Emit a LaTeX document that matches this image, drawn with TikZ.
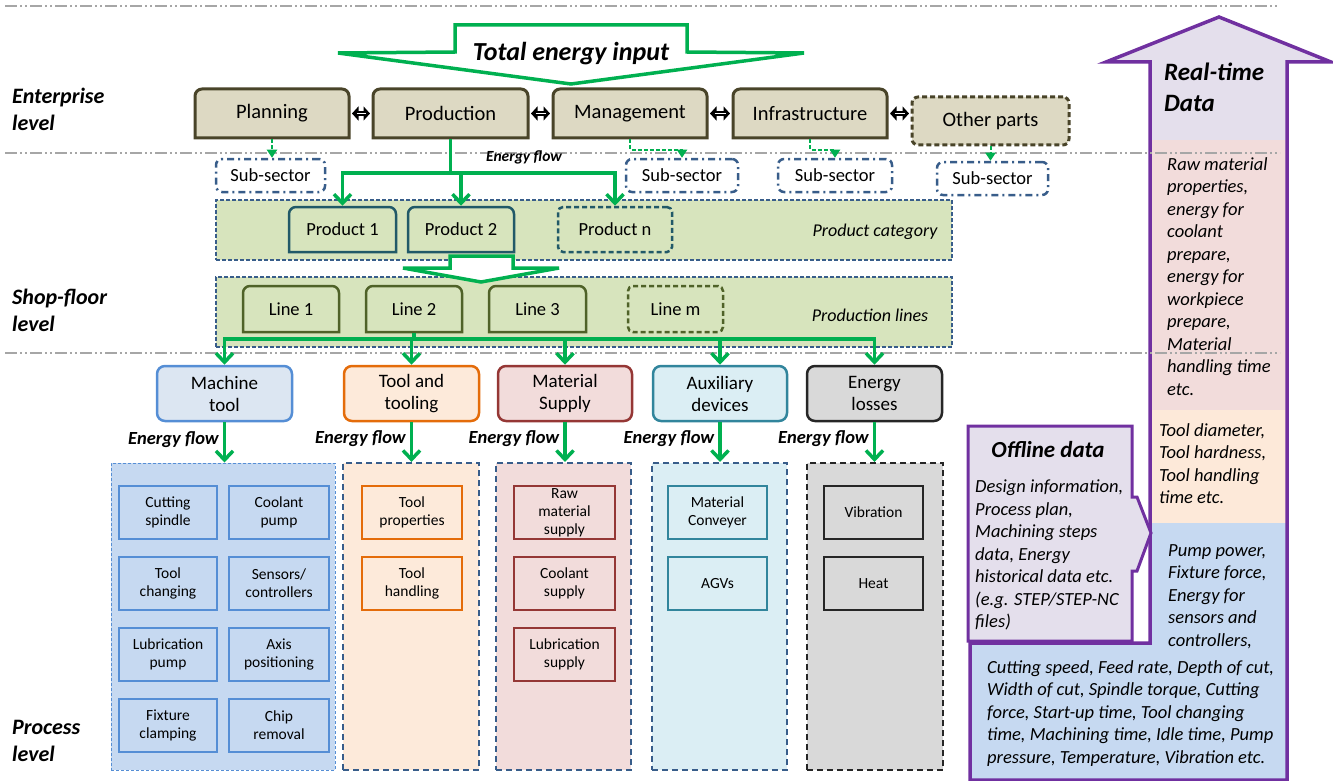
\documentclass[tikz,border=0pt]{standalone}
\usepackage{fontspec}
\setmainfont{Carlito}
\usetikzlibrary{arrows.meta,calc}
\definecolor{flowgreen}{HTML}{00B050}
\definecolor{entfill}{HTML}{DDD9C3}
\definecolor{entdraw}{HTML}{494429}
\definecolor{subblue}{HTML}{385D8A}
\definecolor{panelgreen}{HTML}{D7E4BD}
\definecolor{proddraw}{HTML}{215968}
\definecolor{linedraw}{HTML}{4F6228}
\definecolor{gridgray}{HTML}{A6A6A6}
\definecolor{mtfill}{HTML}{DCE6F2}
\definecolor{mtdraw}{HTML}{558ED5}
\definecolor{mtpanel}{HTML}{C6D9F1}
\definecolor{ttfill}{HTML}{FDEADA}
\definecolor{ttdraw}{HTML}{E46C0A}
\definecolor{msfill}{HTML}{F2DCDB}
\definecolor{msdraw}{HTML}{953735}
\definecolor{adfill}{HTML}{DBEEF4}
\definecolor{addraw}{HTML}{31859C}
\definecolor{elfill}{HTML}{D9D9D9}
\definecolor{eldraw}{HTML}{262626}
\definecolor{rtpurple}{HTML}{7030A0}
\definecolor{rtlav}{HTML}{E4DFEC}
\definecolor{rtpink}{HTML}{F2DCDB}
\definecolor{rtpeach}{HTML}{FDE9D9}
\definecolor{rtblue}{HTML}{C6D9F1}
\newcommand{\fsz}[2]{\fontsize{#1}{#2}\selectfont}
\newcommand{\bx}[7]{\node[inner sep=0pt, align=center, minimum width={(#4-#2)*1pt}, minimum height={(#5-#3)*1pt}, #6] (#1) at ({(#2+#4)/2},{(#3+#5)/2}) {#7};}
\newcommand{\topbox}[7]{\filldraw[#6] (#2,#5) [rounded corners=7pt] -- (#2,#3) -- (#4,#3) [sharp corners] -- (#4,#5) -- cycle;
\node[#6, draw=none, fill=none, inner sep=0pt, align=center, minimum width={(#4-#2)*1pt}, minimum height={(#5-#3)*1pt}] (#1) at ({(#2+#4)/2},{(#3+#5)/2}) {#7};}
\tikzset{
  flow/.style={draw=flowgreen, line width=3.5pt, -{Straight Barb[length=9pt,width=17pt]}},
  flowline/.style={draw=flowgreen, line width=3.5pt},
  dflow/.style={draw=flowgreen, line width=2pt, dash pattern=on 4pt off 2pt, -{Triangle[length=8pt,width=10pt]}},
  dbl/.style={draw=black, line width=5.5pt, {Triangle[length=6.5pt,width=14pt]}-{Triangle[length=6.5pt,width=14pt]}, shorten <=1.5pt, shorten >=1.5pt},
  dblin/.style={draw=white, line width=1pt, shorten <=6pt, shorten >=6pt},
  ent/.style={fill=entfill, draw=entdraw, line width=3pt, font=\fsz{20.5}{23}},
  sub/.style={draw=subblue, line width=2.5pt, dash pattern=on 7pt off 4pt on 2pt off 4pt, rounded corners=6pt, font=\fsz{18.5}{21}},
  panelbox/.style={fill=panelgreen, draw=subblue, line width=1.2pt, dash pattern=on 4pt off 2pt},
  prodbox/.style={fill=panelgreen, draw=proddraw, line width=2.5pt, font=\fsz{18.5}{21}},
  linebox/.style={fill=panelgreen, draw=linedraw, line width=2.5pt, font=\fsz{18.5}{21}},
  cat/.style={draw, line width=2.5pt, rounded corners=8pt, font=\fsz{19}{22}},
  pnl/.style={draw, line width=2pt, dash pattern=on 6pt off 4pt},
  sm/.style={draw, line width=2pt, font=\fsz{15.5}{18}},
  efl/.style={font=\fsz{18.5}{20}\bfseries\itshape, text=black, inner sep=0pt},
  lvl/.style={font=\fsz{22}{27}\bfseries\itshape, align=left, anchor=west, inner sep=0pt},
  rtxt/.style={font=\fsz{18.5}{22.5}\itshape, align=left, inner sep=0pt, anchor=north west},
  gridline/.style={draw=gridgray, line width=2pt, dash pattern=on 12pt off 3pt on 2pt off 3pt on 2pt off 3pt}
}
\begin{document}
\begin{tikzpicture}[x=1pt,y=-1pt]
\useasboundingbox (0,0) rectangle (1333,781);
% ---------- real-time data arrow ----------
\fill[rtlav] (1150,140) -- (1150,62) -- (1106,62) -- (1219,17) -- (1331,62) -- (1287,62) -- (1287,140) -- cycle;
\fill[rtpink] (1150,140) rectangle (1287,410);
\fill[rtpeach] (1150,410) rectangle (1287,523);
\fill[rtblue] (1150,523) -- (1287,523) -- (1287,780) -- (970,780) -- (970,643) -- (1150,643) -- cycle;
\draw[rtpurple, line width=3.5pt, line join=miter] (1150,643) -- (1150,62) -- (1106,62) -- (1219,17) -- (1331,62) -- (1287,62) -- (1287,780) -- (970,780) -- (970,643) -- cycle;
\node[font=\fsz{25}{31}\bfseries\itshape, align=left, anchor=north west, inner sep=0pt] (rtd) at (1164,63) {Real-time\\Data};
\node[rtxt] (rawtxt) at (1167,157) {Raw material\\properties,\\energy for\\coolant\\prepare,\\energy for\\workpiece\\prepare,\\Material\\handling time\\etc.};
\node[rtxt] (tooltxt) at (1159,423) {Tool diameter,\\Tool hardness,\\Tool handling\\time etc.};
\node[rtxt] (pumptxt) at (1168,544) {Pump power,\\Fixture force,\\Energy for\\sensors and\\controllers,};
\node[rtxt] (cuttxt) at (987,660) {Cutting speed, Feed rate, Depth of cut,\\Width of cut, Spindle torque, Cutting\\force, Start-up time, Tool changing\\time, Machining time, Idle time, Pump\\pressure, Temperature, Vibration etc.};
% ---------- offline data ----------
\filldraw[fill=rtlav, draw=rtpurple, line width=3pt, line join=miter] (968,426) -- (1132,426) -- (1132,497) -- (1137,497) -- (1151,533) -- (1137,571) -- (1132,571) -- (1132,641) -- (968,641) -- cycle;
\node[font=\fsz{23}{26}\bfseries\itshape, inner sep=0pt] (offl) at (1048,450) {Offline data};
\node[rtxt] (offtxt) at (975,480) {Design information,\\Process plan,\\Machining steps\\data, Energy\\historical data etc.\\(e.g. STEP/STEP-NC\\files)};
% ---------- grid lines ----------
\draw[gridline] (5,6) -- (1278,6);
\draw[gridline] (5,153) -- (1280,153);
\draw[gridline] (5,353) -- (1280,353);
% ---------- level labels ----------
\node[lvl] (lvl1) at (12,109) {Enterprise\\level};
\node[lvl] (lvl2) at (12,310) {Shop-floor\\level};
\node[lvl] (lvl3) at (12,741) {Process\\level};
% ---------- total energy input ----------
\filldraw[fill=white, draw=flowgreen, line width=3.5pt, line join=miter] (455,25) -- (687,25) -- (687,52) -- (804,53) -- (571,84) -- (338,53) -- (455,52) -- cycle;
\node[font=\fsz{26}{28}\bfseries\itshape, inner sep=0pt] (tei) at (571,54) {Total energy input};
% ---------- enterprise boxes ----------
\topbox{plan}{195}{89}{349}{138}{ent}{Planning}
\topbox{prod}{373}{89}{528}{138}{ent}{Production}
\topbox{mgmt}{553}{89}{707}{138}{ent}{Management}
\topbox{infra}{733}{89}{887}{138}{ent}{Infrastructure}
\bx{other}{912}{97}{1069}{145}{ent, dash pattern=on 5pt off 3pt, rounded corners=6pt}{Other parts}
\draw[dbl] (plan.east) -- (prod.west);
\draw[dbl] (prod.east) -- (mgmt.west);
\draw[dbl] (mgmt.east) -- (infra.west);
\draw[dbl] (infra.east) -- (other.west |- infra.east);
\draw[dblin] (plan.east) -- (prod.west);
\draw[dblin] (prod.east) -- (mgmt.west);
\draw[dblin] (mgmt.east) -- (infra.west);
\draw[dblin] (infra.east) -- (other.west |- infra.east);
% sub-sectors
\bx{ss1}{216}{159}{325}{192}{sub}{Sub-sector}
\bx{ss2}{626}{159}{738}{192}{sub}{Sub-sector}
\bx{ss3}{778}{159}{892}{192}{sub}{Sub-sector}
\bx{ss4}{937}{162}{1048}{195}{sub}{Sub-sector}
\coordinate (bend2) at ($(ss2.north)+(0,-8)$);
\coordinate (bend3) at ($(ss3.north)+(0,-8)$);
\draw[dflow] (plan.south) -- (plan.south |- ss1.north);
\draw[dflow] (mgmt.south) |- (bend2) -- (ss2.north);
\draw[dflow] (infra.south) |- (bend3) -- (ss3.north);
\draw[dflow] (other.south) -- (other.south |- ss4.north);
% ---------- product category ----------
\bx{pcat}{216}{200}{952}{260}{panelbox}{}
\node[font=\fsz{18}{20}\itshape, inner sep=0pt] (pcatl) at (875,232) {Product category};
\topbox{p1}{289}{207}{396}{252}{prodbox}{Product 1}
\topbox{p2}{408}{207}{514}{252}{prodbox}{Product 2}
\bx{pn}{558}{207}{672}{252}{prodbox, dash pattern=on 5pt off 3pt, rounded corners=5pt}{Product n}
\coordinate (pbus) at (0,173);
\draw[flowline] (prod.south) -- (prod.south |- pbus);
\draw[flowline, line cap=rect] (p1.north |- pbus) -- (pn.north |- pbus);
\draw[flow] (p1.north |- pbus) -- (p1.north);
\draw[flow] (p2.north |- pbus) -- (p2.north);
\draw[flow] (pn.north |- pbus) -- (pn.north);
\node[font=\fsz{15.5}{18}\bfseries\itshape, inner sep=0pt] (ef0) at (524,157) {Energy flow};
% ---------- production lines ----------
\bx{plines}{216}{277}{952}{347}{panelbox}{}
\node[font=\fsz{18}{20}\itshape, inner sep=0pt] (plinesl) at (870,315) {Production lines};
\filldraw[fill=white, draw=flowgreen, line width=3.5pt, line join=miter] (450,256) -- (513,256) -- (513,268) -- (559,268) -- (481,282) -- (403,268) -- (450,268) -- cycle;
\topbox{l1}{243}{286}{339}{332}{linebox}{Line 1}
\topbox{l2}{366}{286}{462}{332}{linebox}{Line 2}
\topbox{l3}{489}{286}{586}{332}{linebox}{Line 3}
\bx{lm}{628}{286}{723}{332}{linebox, dash pattern=on 5pt off 3pt, rounded corners=5pt}{Line m}
% ---------- categories ----------
\bx{mt}{157}{366}{292}{421}{cat, fill=mtfill, draw=mtdraw}{Machine\\tool}
\bx{tt}{344}{366}{479}{421}{cat, fill=ttfill, draw=ttdraw}{Tool and\\tooling}
\bx{ms}{498}{366}{632}{421}{cat, fill=msfill, draw=msdraw}{Material\\Supply}
\bx{ad}{653}{366}{787}{421}{cat, fill=adfill, draw=addraw}{Auxiliary\\devices}
\bx{el}{807}{366}{942}{421}{cat, fill=elfill, draw=eldraw}{Energy\\losses}
\coordinate (lbus) at (0,339);
\draw[flowline] (l2.south) -- (l2.south |- lbus);
\draw[flowline, line cap=rect] (mt.north |- lbus) -- (el.north |- lbus);
\foreach \n in {mt,tt,ms,ad,el}{\draw[flow] (\n.north |- lbus) -- (\n.north);}
% ---------- panels ----------
\bx{mtp}{111}{463}{335}{770}{pnl, fill=mtpanel, draw=mtdraw, line width=1pt, dash pattern=on 3pt off 2pt}{}
\bx{ttp}{343}{463}{479}{770}{pnl, fill=ttfill, draw=subblue}{}
\bx{msp}{496}{463}{631}{770}{pnl, fill=msfill, draw=subblue}{}
\bx{adp}{652}{463}{787}{770}{pnl, fill=adfill, draw=subblue}{}
\bx{elp}{807}{463}{943}{770}{pnl, fill=elfill, draw=eldraw}{}
\foreach \n in {mt,tt,ms,ad,el}{\draw[flow] (\n.south) -- node[efl, pos=0.42, left=4pt]{Energy flow} (\n.south |- \n p.north);}
% machine tool items
\bx{cs}{119}{486}{217}{539}{sm, fill=mtpanel, draw=mtdraw}{Cutting\\spindle}
\bx{cp}{229}{486}{329}{539}{sm, fill=mtpanel, draw=mtdraw}{Coolant\\pump}
\bx{tc}{119}{557}{217}{610}{sm, fill=mtpanel, draw=mtdraw}{Tool\\changing}
\bx{sc}{229}{557}{329}{610}{sm, fill=mtpanel, draw=mtdraw}{Sensors/\\controllers}
\bx{lp}{119}{628}{217}{681}{sm, fill=mtpanel, draw=mtdraw}{Lubrication\\pump}
\bx{ap}{229}{628}{329}{681}{sm, fill=mtpanel, draw=mtdraw}{Axis\\positioning}
\bx{fc}{119}{699}{217}{752}{sm, fill=mtpanel, draw=mtdraw}{Fixture\\clamping}
\bx{cr}{229}{699}{329}{752}{sm, fill=mtpanel, draw=mtdraw}{Chip\\removal}
% tool items
\bx{tp}{362}{486}{462}{539}{sm, fill=ttfill, draw=ttdraw}{Tool\\properties}
\bx{th}{362}{557}{462}{610}{sm, fill=ttfill, draw=ttdraw}{Tool\\handling}
% material items
\bx{rm}{514}{486}{615}{539}{sm, fill=msfill, draw=msdraw}{Raw\\material\\supply}
\bx{cls}{514}{557}{615}{610}{sm, fill=msfill, draw=msdraw}{Coolant\\supply}
\bx{lbs}{514}{628}{615}{681}{sm, fill=msfill, draw=msdraw}{Lubrication\\supply}
% auxiliary items
\bx{mc}{668}{486}{767}{539}{sm, fill=adfill, draw=addraw}{Material\\Conveyer}
\bx{agv}{668}{557}{767}{610}{sm, fill=adfill, draw=addraw}{AGVs}
% losses items
\bx{vib}{824}{486}{923}{539}{sm, fill=elfill, draw=eldraw}{Vibration}
\bx{heat}{824}{557}{923}{610}{sm, fill=elfill, draw=eldraw}{Heat}
\end{tikzpicture}
\end{document}
